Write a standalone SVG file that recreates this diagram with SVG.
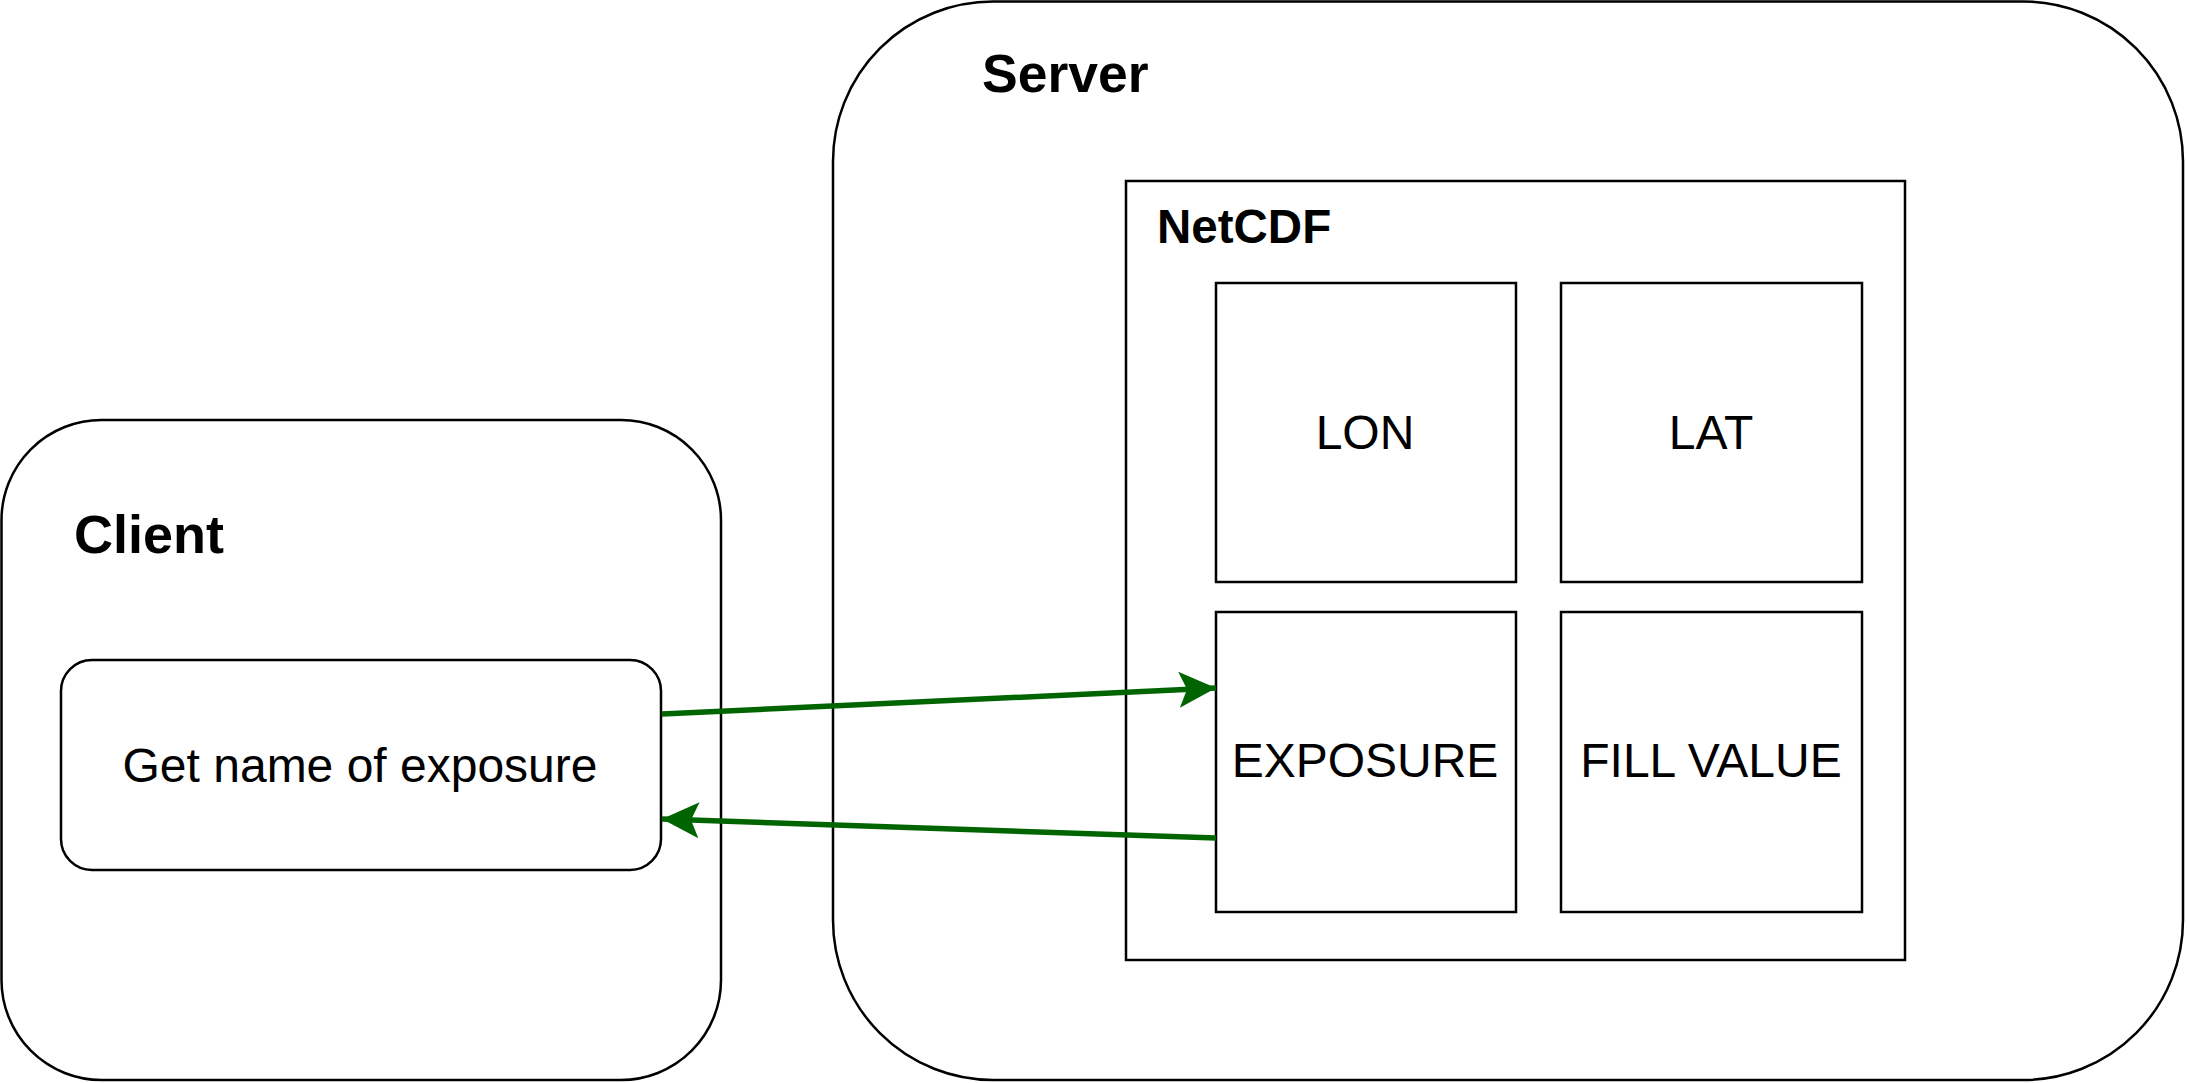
<svg xmlns="http://www.w3.org/2000/svg" width="2187" height="1083" viewBox="0 0 2187 1083">
<style>
.box{fill:#fff;stroke:#000;stroke-width:2.5}
.bold{font-family:"Liberation Sans",Arial,sans-serif;font-weight:bold;fill:#000}
.reg{font-family:"Liberation Sans",Arial,sans-serif;font-size:48px;fill:#000;text-anchor:middle}
.conn{fill:none;stroke:#006400;stroke-width:5.5}
</style>
<defs>
<marker id="arrow" markerUnits="userSpaceOnUse" markerWidth="40" markerHeight="40" viewBox="0 0 40 40" refX="37" refY="18" orient="auto">
<path d="M0,0 L37,18 L0,36 L8,18 Z" fill="#006400"/>
</marker>
</defs>
<rect width="2187" height="1083" fill="#fff"/>
<g id="client">
<rect class="box" x="1.5" y="420" width="719.5" height="660" rx="100" ry="100"/>
<text class="bold" x="74" y="553" font-size="54">Client</text>
</g>
<g id="get-name">
<rect class="box" x="61" y="660" width="600" height="210" rx="31" ry="31"/>
<text class="reg" x="360" y="782">Get name of exposure</text>
</g>
<g id="server">
<rect class="box" x="833" y="1.5" width="1350" height="1078.5" rx="160" ry="160"/>
<text class="bold" x="982" y="92" font-size="53.5">Server</text>
</g>
<g id="netcdf">
<rect class="box" x="1126" y="181" width="779" height="779"/>
<text class="bold" x="1157" y="243" font-size="47.5">NetCDF</text>
</g>
<g id="lon">
<rect class="box" x="1216" y="283" width="300" height="299"/>
<text class="reg" x="1365" y="449">LON</text>
</g>
<g id="lat">
<rect class="box" x="1561" y="283" width="301" height="299"/>
<text class="reg" x="1711" y="449">LAT</text>
</g>
<g id="exposure">
<rect class="box" x="1216" y="612" width="300" height="300"/>
<text class="reg" x="1365" y="777">EXPOSURE</text>
</g>
<g id="fill-value">
<rect class="box" x="1561" y="612" width="301" height="300"/>
<text class="reg" x="1711" y="777">FILL VALUE</text>
</g>
<g id="connectors">
<line class="conn" x1="662" y1="714" x2="1216" y2="688" marker-end="url(#arrow)"/>
<line class="conn" x1="1216" y1="838" x2="662" y2="819" marker-end="url(#arrow)"/>
</g>
</svg>
